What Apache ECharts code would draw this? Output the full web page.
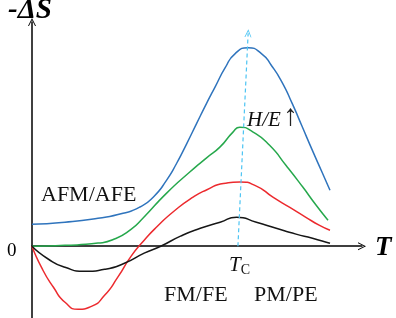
<!doctype html>
<html>
    <head>
        <meta charset="utf-8">
        <style>
            html, body { margin: 0; padding: 0; background: #fff; }
            #main { width: 396px; height: 318px; }
        </style>
    </head>
    <body>
        <div id="main"></div>
        <script src="https://cdn.jsdelivr.net/npm/echarts@6/dist/echarts.min.js"></script>
        <script>
            var chart = echarts.init(document.getElementById('main'));

            // [T, -dS], arbitrary units
            var blueCurve = [
                [0, 0.98], [1, 1.07], [2, 1.25], [2.76, 1.47], [3.27, 1.75],
                [3.68, 2.2], [4.08, 2.95], [4.38, 3.69], [4.69, 4.58], [4.99, 5.48],
                [5.29, 6.37], [5.55, 7.11], [5.85, 7.95], [6.15, 8.58], [6.55, 8.85],
                [6.96, 8.58], [7.26, 8.05], [7.57, 7.33], [7.88, 6.38],
                [8.18, 5.36], [8.48, 4.33], [8.79, 3.3], [9.03, 2.5]
            ];
            var greenCurve = [
                [0, 0], [1, 0.04], [2, 0.14], [2.5, 0.32], [3, 0.75],
                [3.36, 1.25], [4.08, 2.37], [4.79, 3.32], [5.3, 3.95], [5.7, 4.43],
                [6.09, 5.09], [6.3, 5.31], [6.7, 5.09], [7.2, 4.5], [7.7, 3.6],
                [8.2, 2.65], [8.6, 1.85], [8.97, 1.16]
            ];
            var redCurve = [
                [0, 0], [0.3, -0.98], [0.65, -1.83], [1, -2.5], [1.4, -2.81],
                [1.8, -2.68], [2.2, -2.19], [2.6, -1.38], [3, -0.45], [3.4, 0.27],
                [3.8, 0.89], [4.3, 1.56], [4.88, 2.19], [5.3, 2.52], [5.8, 2.8],
                [6.3, 2.86], [6.8, 2.68], [7.3, 2.19], [7.8, 1.74], [8.3, 1.29],
                [8.7, 0.94], [9.03, 0.71]
            ];
            var blackCurve = [
                [0, 0], [0.5, -0.58], [1, -0.94], [1.6, -1.12], [2.2, -1.03],
                [2.8, -0.76], [3.4, -0.31], [3.9, 0], [4.5, 0.45], [5.1, 0.8],
                [5.7, 1.07], [6.2, 1.29], [6.8, 1.07], [7.4, 0.8], [8, 0.54],
                [8.5, 0.36], [9.03, 0.13]
            ];
            // dashed Tc guide, bottom to top
            var tcLine = [[6.24, 0], [6.55, 9.5]];

            var chevron = 'path://M5,0 L10,10 L8.8,10 L5,2.4 L1.2,10 L0,10 Z';
            var serif = '"Liberation Serif", "DejaVu Serif", serif';

            function curve(data, color) {
                return {
                    type: 'line',
                    data: data,
                    smooth: 0.6,
                    showSymbol: false,
                    silent: true,
                    lineStyle: { color: color, width: 1.5 }
                };
            }

            chart.setOption({
                animation: false,
                grid: { left: 32, right: 34, top: 22, bottom: 0 },
                xAxis: {
                    type: 'value',
                    min: 0,
                    max: 10,
                    axisLine: {
                        onZero: true,
                        symbol: ['none', chevron],
                        symbolSize: [8, 10],
                        lineStyle: { color: '#000', width: 1.5 }
                    },
                    axisTick: { show: false },
                    axisLabel: { show: false },
                    splitLine: { show: false }
                },
                yAxis: {
                    type: 'value',
                    min: -3.2,
                    max: 10,
                    axisLine: {
                        show: true,
                        symbol: ['none', chevron],
                        symbolSize: [8, 10],
                        lineStyle: { color: '#000', width: 1.5 }
                    },
                    axisTick: { show: false },
                    axisLabel: { show: false },
                    splitLine: { show: false }
                },
                series: [
                    curve(blueCurve, '#2f74bd'),
                    curve(greenCurve, '#26a84c'),
                    curve(redCurve, '#ec2a2e'),
                    curve(blackCurve, '#161616'),
                    {
                        type: 'line',
                        data: [],
                        silent: true,
                        markLine: {
                            silent: true,
                            symbol: ['none', chevron],
                            symbolSize: [7, 8],
                            label: { show: false },
                            lineStyle: { color: '#4cc4f3', type: [4, 3], width: 1.2 },
                            data: [[{ coord: tcLine[0] }, { coord: tcLine[1] }]]
                        }
                    }
                ],
                graphic: [
                    {
                        type: 'text', x: 8, y: 11,
                        style: { text: '-ΔS', font: 'italic bold 29px ' + serif, fill: '#000', verticalAlign: 'middle' }
                    },
                    {
                        type: 'text', x: 375, y: 248,
                        style: { text: 'T', font: 'italic bold 27px ' + serif, fill: '#000', verticalAlign: 'middle' }
                    },
                    {
                        type: 'text', x: 7, y: 251,
                        style: { text: '0', font: '19px ' + serif, fill: '#000', verticalAlign: 'middle' }
                    },
                    {
                        type: 'text', x: 41, y: 195,
                        style: { text: 'AFM/AFE', font: '22px ' + serif, fill: '#111', verticalAlign: 'middle' }
                    },
                    {
                        type: 'text', x: 164, y: 295,
                        style: { text: 'FM/FE', font: '22px ' + serif, fill: '#111', verticalAlign: 'middle' }
                    },
                    {
                        type: 'text', x: 254, y: 295,
                        style: { text: 'PM/PE', font: '22px ' + serif, fill: '#111', verticalAlign: 'middle' }
                    },
                    {
                        type: 'text', x: 229, y: 265,
                        style: {
                            text: '{t|T}{c|C}',
                            verticalAlign: 'middle',
                            rich: {
                                t: { font: 'italic 21px ' + serif, fill: '#111' },
                                c: { font: '14px ' + serif, fill: '#111', padding: [10, 0, 0, 0] }
                            }
                        }
                    },
                    {
                        type: 'text', x: 247, y: 120,
                        style: { text: 'H/E', font: 'italic 21px ' + serif, fill: '#111', verticalAlign: 'middle' }
                    },
                    {
                        type: 'text', x: 283, y: 117,
                        style: { text: '↑', font: '30px ' + serif, fill: '#222', verticalAlign: 'middle' }
                    }
                ]
            });

            window.addEventListener('resize', function () {
                chart.resize();
            });
        </script>
    </body>
</html>
